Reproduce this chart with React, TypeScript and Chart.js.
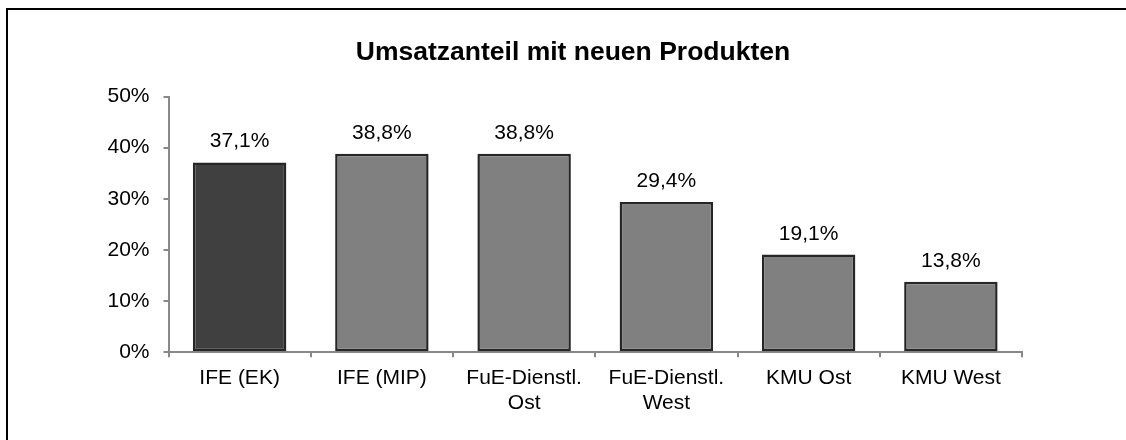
import React, { useEffect, useRef } from "react";
import { Chart, registerables } from "chart.js";

Chart.register(...registerables);

const categories: (string | string[])[] = [
  "IFE (EK)",
  "IFE (MIP)",
  ["FuE-Dienstl.", "Ost"],
  ["FuE-Dienstl.", "West"],
  "KMU Ost",
  "KMU West",
];
const values: number[] = [37.1, 38.8, 38.8, 29.4, 19.1, 13.8];
const barColors: string[] = ["#404040", "#808080", "#808080", "#808080", "#808080", "#808080"];
const titleText = "Umsatzanteil mit neuen Produkten";
const yMax = 50;
const yStep = 10;

const FONT = "'Liberation Sans', Arial, sans-serif";

const valueLabels = {
  id: "valueLabels",
  afterDatasetsDraw(chart: any) {
    const ctx = chart.ctx;
    const meta = chart.getDatasetMeta(0);
    ctx.save();
    ctx.font = `21px ${FONT}`;
    ctx.fillStyle = "#000";
    ctx.textAlign = "center";
    ctx.textBaseline = "alphabetic";
    meta.data.forEach((el: any, i: number) => {
      const v = chart.data.datasets[0].data[i] as number;
      const txt = v.toFixed(1).replace(".", ",") + "%";
      ctx.fillText(txt, el.x, el.y - 15);
    });
    ctx.restore();
  },
};

export default function App() {
  const ref = useRef<HTMLCanvasElement | null>(null);
  useEffect(() => {
    if (!ref.current) return;
    const chart = new Chart(ref.current, {
      type: "bar",
      data: {
        labels: categories,
        datasets: [
          {
            data: values,
            backgroundColor: barColors,
            borderColor: "#262626",
            borderWidth: 2.5,
            borderSkipped: false,
            barPercentage: 0.657,
            categoryPercentage: 1,
          },
        ],
      },
      options: {
        responsive: false,
        animation: false,
        devicePixelRatio: 1,
        layout: { padding: 0 },
        plugins: {
          legend: { display: false },
          tooltip: { enabled: false },
          title: {
            display: true,
            text: titleText,
            color: "#000",
            font: { family: FONT, size: 26.5, weight: "bold" },
            padding: { top: 27, bottom: 27.7 },
          },
        },
        scales: {
          x: {
            grid: {
              display: true,
              drawOnChartArea: false,
              drawTicks: true,
              tickLength: 5,
              color: "#888888",
              lineWidth: 2,
            },
            border: { display: true, color: "#888888", width: 2 },
            ticks: {
              color: "#000",
              font: { family: FONT, size: 21, lineHeight: 1.2 },
              padding: 8,
              maxRotation: 0,
              autoSkip: false,
            },
            afterFit: (s: any) => {
              s.height = 87.7;
            },
          },
          y: {
            min: 0,
            max: yMax,
            grid: {
              display: true,
              drawOnChartArea: false,
              drawTicks: true,
              tickLength: 5,
              color: "#888888",
              lineWidth: 2,
            },
            border: { display: true, color: "#888888", width: 2 },
            ticks: {
              stepSize: yStep,
              color: "#000",
              font: { family: FONT, size: 21 },
              padding: 14,
              callback: (v: any) => `${v}%`,
            },
            afterFit: (s: any) => {
              s.width = 160.5;
            },
          },
          yRight: {
            type: "linear",
            position: "right",
            display: true,
            grid: { display: false },
            border: { display: false },
            ticks: { display: false },
            afterFit: (s: any) => {
              s.width = 116;
            },
          },
        },
      },
      plugins: [valueLabels],
    });
    return () => chart.destroy();
  }, []);

  return (
    <div
      style={{
        position: "absolute",
        left: 0,
        top: 0,
        width: 1126,
        height: 440,
        overflow: "hidden",
        background: "#fff",
      }}
    >
      <div
        style={{
          position: "absolute",
          left: 6,
          top: 8,
          width: 1132,
          height: 432,
          borderLeft: "2px solid #000",
          borderTop: "2px solid #000",
          boxSizing: "border-box",
        }}
      >
        <canvas ref={ref} width={1130} height={430} style={{ display: "block", width: 1130, height: 430 }} />
      </div>
    </div>
  );
}
